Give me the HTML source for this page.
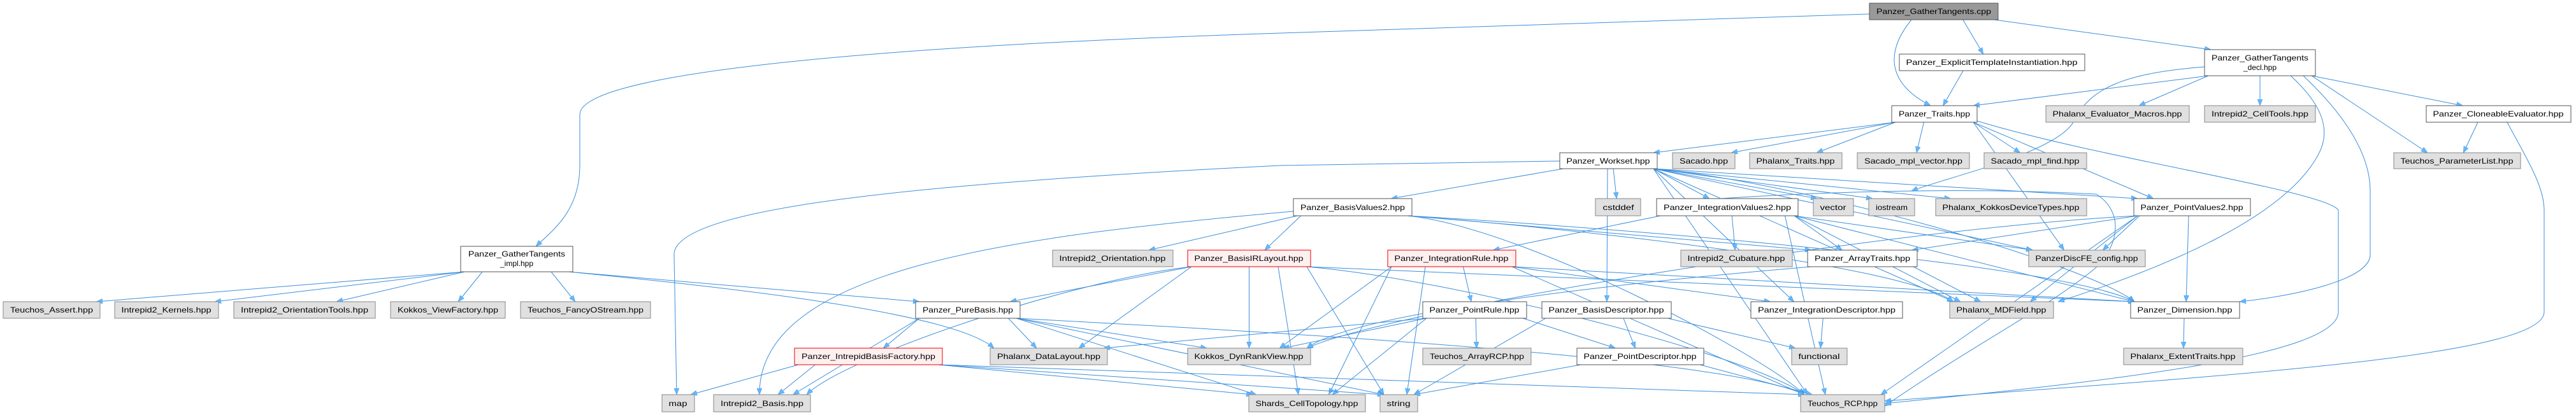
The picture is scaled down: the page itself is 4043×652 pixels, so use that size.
<!DOCTYPE html>
<html><head><meta charset="utf-8">
<style>
html,body{margin:0;padding:0;background:#fff;}
svg{display:block;}
text{font-family:"Liberation Sans","DejaVu Sans",sans-serif;font-size:12px;fill:#000;}
.g{fill:#e0e0e0;stroke:#888;stroke-width:1;}
.w{fill:#fff;stroke:#555;stroke-width:1;}
.r{fill:#fff0f0;stroke:#e00;stroke-width:1;}
.c{fill:#999;stroke:#555;stroke-width:1;}
.e{fill:none;stroke:#3c8fdc;stroke-width:1;}
</style></head>
<body>
<svg id="s" width="4043" height="652" viewBox="0 0 4043 652" xmlns="http://www.w3.org/2000/svg">
<defs>
<marker id="a" viewBox="0 0 10 8" refX="10" refY="4" markerWidth="10" markerHeight="8" markerUnits="userSpaceOnUse" orient="auto">
<path d="M0,0 L10,4 L0,8 z" fill="#63b8ff" stroke="#3c8fdc" stroke-width="0.5"/>
</marker>
</defs>
<g id="edges">
<path class="e" marker-end="url(#a)" d="M2934,22 L2010,52 C1300,75 910,120 910,180 L910,260 C910,330 870,360 841,387"/>
<path class="e" marker-end="url(#a)" d="M3000,31 C2960,80 2960,130 3030,166"/>
<path class="e" marker-end="url(#a)" d="M2448,253 L2010,260 C1400,290 1058,330 1058,400 L1062,620"/>
<path class="e" marker-end="url(#a)" d="M2030,332 C1600,370 1190,420 1192,620"/>
<path class="e" marker-end="url(#a)" d="M3460,105 C3330,115 3280,140 3255,190 C3230,240 3050,280 3000,300"/>
<path class="e" marker-end="url(#a)" d="M3595,119 C3640,160 3660,200 3640,240 C3590,340 3400,420 3230,474"/>
<path class="e" marker-end="url(#a)" d="M3615,119 C3690,190 3720,250 3720,300 L3720,400 C3720,440 3600,465 3515,474"/>
<path class="e" marker-end="url(#a)" d="M3935,192 C3960,240 3993,290 3993,330 L3993,490 C3993,560 3500,590 2958,630"/>
<path class="e" marker-end="url(#a)" d="M3103,190 C3300,250 3650,300 3670,330 L3670,490 C3670,560 3300,600 2958,634"/>
<path class="e" marker-end="url(#a)" d="M2600,320 C2700,310 3000,290 3290,305 C3330,330 3330,380 3290,420 C3220,480 3100,540 2958,638"/>
</g>
<rect class="c" x="2934" y="5" width="202" height="26"/><text x="3035" y="22" text-anchor="middle" textLength="180" lengthAdjust="spacingAndGlyphs">Panzer_GatherTangents.cpp</text>
<rect class="w" x="2981" y="85" width="291" height="26"/><text x="3126" y="102" text-anchor="middle" textLength="269" lengthAdjust="spacingAndGlyphs">Panzer_ExplicitTemplateInstantiation.hpp</text>
<rect class="w" x="3460" y="78" width="174" height="41"/><text x="3547" y="95" text-anchor="middle" textLength="152" lengthAdjust="spacingAndGlyphs">Panzer_GatherTangents</text><text x="3547" y="110" text-anchor="middle">_decl.hpp</text>
<rect class="w" x="2969" y="166" width="134" height="26"/><text x="3036" y="183" text-anchor="middle" textLength="112" lengthAdjust="spacingAndGlyphs">Panzer_Traits.hpp</text>
<rect class="g" x="3211" y="166" width="225" height="26"/><text x="3323" y="183" text-anchor="middle" textLength="203" lengthAdjust="spacingAndGlyphs">Phalanx_Evaluator_Macros.hpp</text>
<rect class="g" x="3460" y="166" width="174" height="26"/><text x="3547" y="183" text-anchor="middle" textLength="152" lengthAdjust="spacingAndGlyphs">Intrepid2_CellTools.hpp</text>
<rect class="w" x="3808" y="166" width="227" height="26"/><text x="3921" y="183" text-anchor="middle" textLength="205" lengthAdjust="spacingAndGlyphs">Panzer_CloneableEvaluator.hpp</text>
<rect class="w" x="2448" y="240" width="153" height="25"/><text x="2524" y="257" text-anchor="middle" textLength="131" lengthAdjust="spacingAndGlyphs">Panzer_Workset.hpp</text>
<rect class="g" x="2625" y="240" width="98" height="25"/><text x="2674" y="257" text-anchor="middle" textLength="76" lengthAdjust="spacingAndGlyphs">Sacado.hpp</text>
<rect class="g" x="2746" y="240" width="145" height="25"/><text x="2818" y="257" text-anchor="middle" textLength="123" lengthAdjust="spacingAndGlyphs">Phalanx_Traits.hpp</text>
<rect class="g" x="2915" y="240" width="176" height="25"/><text x="3003" y="257" text-anchor="middle" textLength="154" lengthAdjust="spacingAndGlyphs">Sacado_mpl_vector.hpp</text>
<rect class="g" x="3114" y="240" width="161" height="25"/><text x="3194" y="257" text-anchor="middle" textLength="139" lengthAdjust="spacingAndGlyphs">Sacado_mpl_find.hpp</text>
<rect class="g" x="3757" y="240" width="199" height="25"/><text x="3856" y="257" text-anchor="middle" textLength="177" lengthAdjust="spacingAndGlyphs">Teuchos_ParameterList.hpp</text>
<rect class="w" x="2030" y="312" width="186" height="27"/><text x="2123" y="330" text-anchor="middle" textLength="164" lengthAdjust="spacingAndGlyphs">Panzer_BasisValues2.hpp</text>
<rect class="g" x="2504" y="312" width="71" height="27"/><text x="2540" y="330" text-anchor="middle" textLength="49" lengthAdjust="spacingAndGlyphs">cstddef</text>
<rect class="w" x="2600" y="312" width="222" height="27"/><text x="2711" y="330" text-anchor="middle" textLength="200" lengthAdjust="spacingAndGlyphs">Panzer_IntegrationValues2.hpp</text>
<rect class="g" x="2846" y="312" width="63" height="27"/><text x="2877" y="330" text-anchor="middle" textLength="41" lengthAdjust="spacingAndGlyphs">vector</text>
<rect class="g" x="2933" y="312" width="72" height="27"/><text x="2969" y="330" text-anchor="middle" textLength="50" lengthAdjust="spacingAndGlyphs">iostream</text>
<rect class="g" x="3038" y="312" width="237" height="27"/><text x="3156" y="330" text-anchor="middle" textLength="215" lengthAdjust="spacingAndGlyphs">Phalanx_KokkosDeviceTypes.hpp</text>
<rect class="w" x="3349" y="312" width="183" height="27"/><text x="3440" y="330" text-anchor="middle" textLength="161" lengthAdjust="spacingAndGlyphs">Panzer_PointValues2.hpp</text>
<rect class="w" x="723" y="387" width="176" height="40"/><text x="811" y="403" text-anchor="middle" textLength="152" lengthAdjust="spacingAndGlyphs">Panzer_GatherTangents</text><text x="811" y="418" text-anchor="middle">_impl.hpp</text>
<rect class="g" x="1652" y="393" width="189" height="26"/><text x="1746" y="410" text-anchor="middle" textLength="167" lengthAdjust="spacingAndGlyphs">Intrepid2_Orientation.hpp</text>
<rect class="r" x="1864" y="393" width="193" height="26"/><text x="1960" y="410" text-anchor="middle" textLength="171" lengthAdjust="spacingAndGlyphs">Panzer_BasisIRLayout.hpp</text>
<rect class="r" x="2178" y="393" width="201" height="26"/><text x="2278" y="410" text-anchor="middle" textLength="179" lengthAdjust="spacingAndGlyphs">Panzer_IntegrationRule.hpp</text>
<rect class="g" x="2638" y="393" width="175" height="26"/><text x="2725" y="410" text-anchor="middle" textLength="153" lengthAdjust="spacingAndGlyphs">Intrepid2_Cubature.hpp</text>
<rect class="w" x="2837" y="393" width="172" height="26"/><text x="2923" y="410" text-anchor="middle" textLength="150" lengthAdjust="spacingAndGlyphs">Panzer_ArrayTraits.hpp</text>
<rect class="g" x="3184" y="393" width="183" height="26"/><text x="3275" y="410" text-anchor="middle" textLength="161" lengthAdjust="spacingAndGlyphs">PanzerDiscFE_config.hpp</text>
<rect class="g" x="5" y="474" width="152" height="26"/><text x="81" y="491" text-anchor="middle" textLength="130" lengthAdjust="spacingAndGlyphs">Teuchos_Assert.hpp</text>
<rect class="g" x="180" y="474" width="163" height="26"/><text x="261" y="491" text-anchor="middle" textLength="141" lengthAdjust="spacingAndGlyphs">Intrepid2_Kernels.hpp</text>
<rect class="g" x="367" y="474" width="222" height="26"/><text x="478" y="491" text-anchor="middle" textLength="200" lengthAdjust="spacingAndGlyphs">Intrepid2_OrientationTools.hpp</text>
<rect class="g" x="613" y="474" width="180" height="26"/><text x="703" y="491" text-anchor="middle" textLength="158" lengthAdjust="spacingAndGlyphs">Kokkos_ViewFactory.hpp</text>
<rect class="g" x="817" y="474" width="204" height="26"/><text x="919" y="491" text-anchor="middle" textLength="182" lengthAdjust="spacingAndGlyphs">Teuchos_FancyOStream.hpp</text>
<rect class="w" x="1437" y="474" width="164" height="26"/><text x="1519" y="491" text-anchor="middle" textLength="142" lengthAdjust="spacingAndGlyphs">Panzer_PureBasis.hpp</text>
<rect class="w" x="2233" y="474" width="163" height="26"/><text x="2314" y="491" text-anchor="middle" textLength="141" lengthAdjust="spacingAndGlyphs">Panzer_PointRule.hpp</text>
<rect class="w" x="2420" y="474" width="203" height="26"/><text x="2521" y="491" text-anchor="middle" textLength="181" lengthAdjust="spacingAndGlyphs">Panzer_BasisDescriptor.hpp</text>
<rect class="w" x="2748" y="474" width="238" height="26"/><text x="2867" y="491" text-anchor="middle" textLength="216" lengthAdjust="spacingAndGlyphs">Panzer_IntegrationDescriptor.hpp</text>
<rect class="g" x="3060" y="474" width="163" height="26"/><text x="3141" y="491" text-anchor="middle" textLength="141" lengthAdjust="spacingAndGlyphs">Phalanx_MDField.hpp</text>
<rect class="w" x="3344" y="474" width="171" height="26"/><text x="3429" y="491" text-anchor="middle" textLength="149" lengthAdjust="spacingAndGlyphs">Panzer_Dimension.hpp</text>
<rect class="r" x="1247" y="547" width="232" height="26"/><text x="1363" y="564" text-anchor="middle" textLength="210" lengthAdjust="spacingAndGlyphs">Panzer_IntrepidBasisFactory.hpp</text>
<rect class="g" x="1554" y="547" width="184" height="26"/><text x="1646" y="564" text-anchor="middle" textLength="162" lengthAdjust="spacingAndGlyphs">Phalanx_DataLayout.hpp</text>
<rect class="g" x="1864" y="547" width="193" height="26"/><text x="1960" y="564" text-anchor="middle" textLength="171" lengthAdjust="spacingAndGlyphs">Kokkos_DynRankView.hpp</text>
<rect class="g" x="2233" y="547" width="170" height="26"/><text x="2318" y="564" text-anchor="middle" textLength="148" lengthAdjust="spacingAndGlyphs">Teuchos_ArrayRCP.hpp</text>
<rect class="w" x="2475" y="547" width="199" height="26"/><text x="2574" y="564" text-anchor="middle" textLength="177" lengthAdjust="spacingAndGlyphs">Panzer_PointDescriptor.hpp</text>
<rect class="g" x="2812" y="547" width="87" height="26"/><text x="2855" y="564" text-anchor="middle" textLength="65" lengthAdjust="spacingAndGlyphs">functional</text>
<rect class="g" x="3333" y="547" width="187" height="26"/><text x="3426" y="564" text-anchor="middle" textLength="165" lengthAdjust="spacingAndGlyphs">Phalanx_ExtentTraits.hpp</text>
<rect class="g" x="1039" y="620" width="51" height="27"/><text x="1064" y="638" text-anchor="middle" textLength="29" lengthAdjust="spacingAndGlyphs">map</text>
<rect class="g" x="1120" y="620" width="152" height="27"/><text x="1196" y="638" text-anchor="middle" textLength="130" lengthAdjust="spacingAndGlyphs">Intrepid2_Basis.hpp</text>
<rect class="g" x="1960" y="620" width="183" height="27"/><text x="2051" y="638" text-anchor="middle" textLength="161" lengthAdjust="spacingAndGlyphs">Shards_CellTopology.hpp</text>
<rect class="g" x="2166" y="620" width="59" height="27"/><text x="2195" y="638" text-anchor="middle" textLength="37" lengthAdjust="spacingAndGlyphs">string</text>
<rect class="g" x="2826" y="620" width="132" height="27"/><text x="2892" y="638" text-anchor="middle" textLength="110" lengthAdjust="spacingAndGlyphs">Teuchos_RCP.hpp</text>
</svg>
<script>
var N={cpp:[2934,3136,5,31],eti:[2981,3272,85,111],decl:[3460,3634,78,119],traits:[2969,3103,166,192],pem:[3211,3436,166,192],cell:[3460,3634,166,192],clone:[3808,4035,166,192],ws:[2448,2601,240,265],sac:[2625,2723,240,265],pht:[2746,2891,240,265],svec:[2915,3091,240,265],sfind:[3114,3275,240,265],plist:[3757,3956,240,265],bv2:[2030,2216,312,339],cst:[2504,2575,312,339],iv2:[2600,2822,312,339],vec:[2846,2909,312,339],ios:[2933,3005,312,339],kdt:[3038,3275,312,339],pv2:[3349,3532,312,339],impl:[723,899,387,427],ori:[1652,1841,393,419],birl:[1864,2057,393,419],ir:[2178,2379,393,419],cub:[2638,2813,393,419],at:[2837,3009,393,419],dfe:[3184,3367,393,419],asrt:[5,157,474,500],ker:[180,343,474,500],otool:[367,589,474,500],vf:[613,793,474,500],fancy:[817,1021,474,500],pb:[1437,1601,474,500],pr:[2233,2396,474,500],bd:[2420,2623,474,500],id:[2748,2986,474,500],mdf:[3060,3223,474,500],dim:[3344,3515,474,500],ibf:[1247,1479,547,573],dl:[1554,1738,547,573],drv:[1864,2057,547,573],arcp:[2233,2403,547,573],pd:[2475,2674,547,573],func:[2812,2899,547,573],ext:[3333,3520,547,573],map:[1039,1090,620,647],i2b:[1120,1272,620,647],shards:[1960,2143,620,647],str:[2166,2225,620,647],rcp:[2826,2958,620,647]};
var E="cpp-eti cpp-decl eti-traits decl-traits decl-pem decl-cell decl-clone decl-plist clone-plist traits-ws traits-sac traits-pht traits-svec traits-sfind traits-pv2 traits-dfe ws-bv2 ws-cst ws-iv2 ws-vec ws-ios ws-kdt ws-pv2 ws-bd ws-rcp ws-dim ws-dfe ws-mdf ws-id bv2-ori bv2-birl bv2-at bv2-mdf bv2-rcp bv2-dim iv2-ir iv2-cub iv2-at iv2-mdf iv2-dim iv2-dfe iv2-rcp pv2-at pv2-dfe pv2-dim pv2-mdf pv2-rcp pv2-drv birl-pb birl-dl birl-drv birl-i2b birl-shards birl-rcp birl-dim birl-str ir-pr ir-drv ir-shards ir-str ir-rcp ir-id ir-dim at-mdf at-drv pb-ibf pb-dl pb-drv pb-i2b pb-shards pb-str pb-rcp pr-dl pr-arcp pr-pd pr-shards pr-drv bd-pd bd-func bd-str id-func pd-str pd-rcp ibf-map ibf-i2b ibf-shards ibf-str ibf-rcp dim-ext impl-asrt impl-ker impl-otool impl-vf impl-fancy impl-pb impl-dl".split(" ");
var g=document.getElementById("edges"),ns="http://www.w3.org/2000/svg";
function cl(v,a,b){return Math.max(a,Math.min(b,v));}
E.forEach(function(e){var p=e.split("-"),s=N[p[0]],t=N[p[1]];if(!s||!t)return;
var scx=(s[0]+s[1])/2,tcx=(t[0]+t[1])/2,sw=(s[1]-s[0])/2,tw=(t[1]-t[0])/2,sx,sy,tx,ty,d;
if(t[2]>s[3]){sx=scx+cl((tcx-scx)*0.5,-(sw-6),sw-6);sy=s[3];tx=tcx+cl((scx-tcx)*0.15,-(tw-6),tw-6);ty=t[2];
var dx=Math.abs(tx-sx);
if(dx>600&&ty-sy>100){
 d="M"+sx+","+sy+" C"+(sx+(tx-sx)*0.3)+","+(sy+20)+" "+(tx-(tx-sx)*0.1)+","+(ty-60)+" "+tx+","+ty;}
else d="M"+sx+","+sy+" L"+tx+","+ty;}
else{sx=scx;sy=s[3];tx=tcx;ty=t[2];d="M"+sx+","+sy+" L"+tx+","+ty;}
var pa=document.createElementNS(ns,"path");pa.setAttribute("class","e");pa.setAttribute("d",d);pa.setAttribute("marker-end","url(#a)");g.appendChild(pa);});
</script>
</body></html>
